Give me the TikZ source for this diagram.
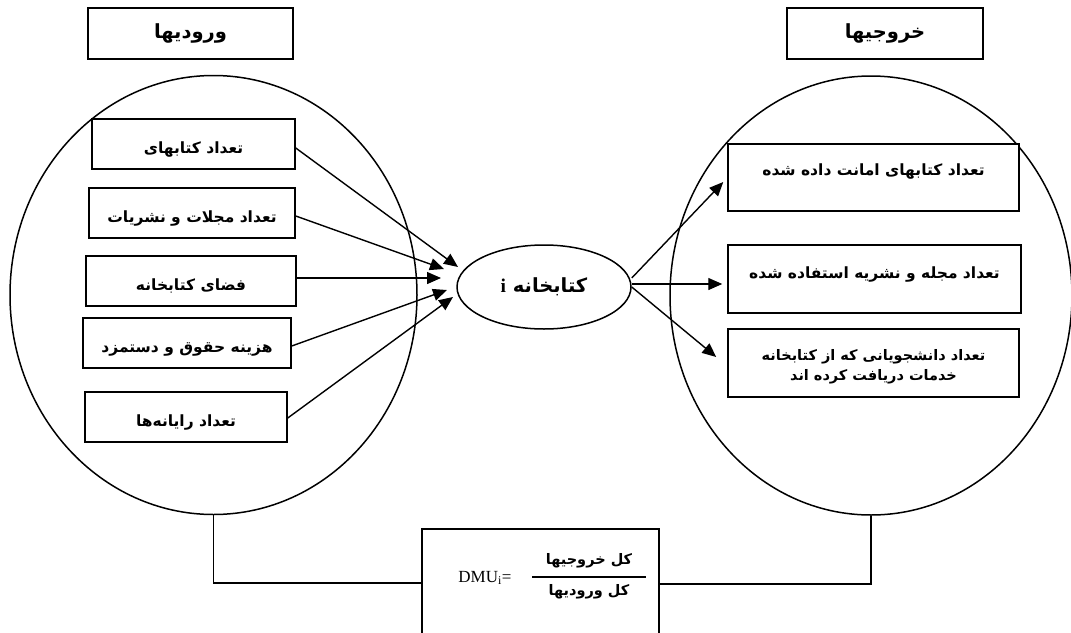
\documentclass[tikz,border=0pt]{standalone}
\usepackage{fontspec}
\setmainfont{Liberation Serif}
\newfontfamily\fa[Script=Arabic]{DejaVu Sans}
\TeXXeTstate=1
\usetikzlibrary{arrows.meta,shapes.geometric,calc}
\begin{document}
\begin{tikzpicture}[x=1pt,y=-1pt,
  bx/.style={draw,line width=1.5pt,fill=white,inner sep=0pt},
  big/.style={draw,line width=1.5pt,ellipse,inner sep=0pt},
  htxt/.style={font=\fa\bfseries\fontsize{19.5}{22}\selectfont},
  ftxt/.style={font=\fa\bfseries\fontsize{15.5}{19}\selectfont},
  intxt/.style={ftxt,text height=20pt,text depth=2pt},
  otxt/.style={font=\fa\bfseries\fontsize{15.5}{20}\selectfont},
  arr/.style={line width=1.4pt,-{Triangle[length=14pt,width=12pt]}},
  conn/.style={line width=1.5pt}]
\useasboundingbox (0,0) rectangle (1071,632);
% big ellipses
\node[big,minimum width=407pt,minimum height=439pt] (cin) at (213.5,295) {};
\node[big,minimum width=402pt,minimum height=439pt] (cout) at (871,295.5) {};
% headers
\node[bx,htxt,minimum width=205pt,minimum height=51pt] (hin) at (190.5,33.5) {\beginR ورودیها\endR};
\node[bx,htxt,minimum width=196pt,minimum height=51pt] (hout) at (885,33.5) {\beginR خروجیها\endR};
% input boxes
\node[bx,intxt,minimum width=203pt,minimum height=50pt] (i1) at (193.5,144) {\beginR تعداد کتابهای\endR};
\node[bx,intxt,minimum width=206pt,minimum height=50pt] (i2) at (192,213) {\beginR تعداد مجلات و نشریات\endR};
\node[bx,intxt,minimum width=210pt,minimum height=50pt] (i3) at (191,281) {\beginR فضای کتابخانه\endR};
\node[bx,intxt,minimum width=208pt,minimum height=50pt] (i4) at (187,343) {\beginR هزینه حقوق و دستمزد\endR};
\node[bx,intxt,minimum width=202pt,minimum height=50pt] (i5) at (186,417) {\beginR تعداد رایانه‌ها\endR};
% output boxes
\node[bx,minimum width=291pt,minimum height=67pt] (o1) at (873.5,177.5) {};
\node[bx,minimum width=293pt,minimum height=68pt] (o2) at (874.5,279) {};
\node[bx,minimum width=291pt,minimum height=68pt] (o3) at (873.5,363) {};
\node[otxt] (o1t) at ($(o1)+(0,-6)$) {\beginR تعداد کتابهای امانت داده شده\endR};
\node[otxt] (o2t) at ($(o2)+(0,-5)$) {\beginR تعداد مجله و نشریه استفاده شده\endR};
\node[ftxt,align=center,font=\fa\bfseries\fontsize{14.5}{20}\selectfont] (o3t) at ($(o3)+(0,4)$) {\beginR تعداد دانشجویانی که از کتابخانه\endR\\\beginR خدمات دریافت کرده اند\endR};
% central
\node[big,minimum width=174pt,minimum height=84pt,htxt] (lib) at (544,287) {\beginR کتابخانه {\rmfamily\bfseries i}\endR};
% input arrows
\coordinate (t1) at (458,267);
\coordinate (t2) at (444,269);
\coordinate (t3) at (441,278);
\coordinate (t4) at (447,290);
\coordinate (t5) at (453,297);
\draw[arr] ($(i1.east)+(0,4)$) -- (t1);
\draw[arr] ($(i2.east)+(0,3)$) -- (t2);
\draw[arr] ($(i3.east)+(0,-3)$) -- (t3);
\draw[arr] ($(i4.east)+(0,3)$) -- (t4);
\draw[arr] ($(i5.east)+(0,1)$) -- (t5);
% output arrows
\draw[arr] ($(lib.east)+(0,-9)$) -- ($(o1.west)+(-4,4.5)$);
\draw[arr] ($(lib.east)+(0,-3)$) -- ($(o2.west)+(-5,5)$);
\draw[arr] (lib.east) -- ($(o3.west)+(-11,-6)$);
% DMU box
\node[bx,minimum width=237pt,minimum height=131pt] (dmu) at (540.5,594.5) {};
\node[font=\fontsize{17}{20}\selectfont] (dmut) at (485,578) {DMU\textsubscript{i}=};
\node[ftxt,font=\fa\bfseries\fontsize{14.5}{18}\selectfont] (num) at (589,561) {\beginR کل خروجیها\endR};
\node[ftxt,font=\fa\bfseries\fontsize{14.5}{18}\selectfont] (den) at (589,592) {\beginR کل ورودیها\endR};
\coordinate (fl) at (532,577);
\coordinate (fr) at (646,577);
\draw[line width=1.8pt] (fl) -- (fr);
% bottom connectors
\draw[conn] (cin.south) |- ($(dmu.west)+(0,-11.5)$);
\draw[conn] ($(dmu.east)+(0,-10.5)$) -| (cout.south);
\end{tikzpicture}
\end{document}
